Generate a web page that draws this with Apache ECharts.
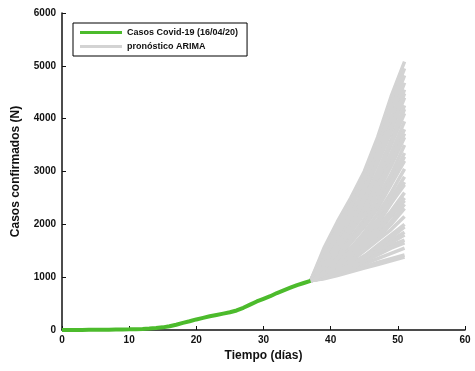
<!DOCTYPE html>
<html>
<head>
<meta charset="utf-8">
<script src="https://cdn.jsdelivr.net/npm/echarts@6/dist/echarts.min.js"></script>
<style>
html,body{margin:0;padding:0;background:#fff;}
#c{width:475px;height:371px;}
</style>
</head>
<body>
<div id="c"></div>
<script>
// Observed cases (days 0..37)
var obsDays = [0,1,2,3,4,5,6,7,8,9,10,11,12,13,14,15,16,17,18,19,20,21,22,23,24,25,26,27,28,29,30,31,32,33,34,35,36,37];
var obsCases = [1,1,2,2,3,4,5,6,8,10,12,15,20,28,38,50,70,100,135,165,200,230,260,285,310,335,370,420,480,540,590,640,700,750,800,850,890,930];

// ARIMA forecast paths, sampled at these days
var fcDays = [37,39,41,43,45,47,49,51];
var fcPaths = [
  [930,1550,2050,2500,3000,3650,4420,5080],
  [930,1450,1950,2450,2950,3600,4300,4950],
  [930,1350,1850,2350,2850,3450,4150,4820],
  [930,1500,1900,2300,2800,3350,4000,4680],
  [930,1300,1700,2150,2700,3250,3900,4550],
  [930,1250,1650,2100,2600,3150,3750,4400],
  [930,1400,1750,2100,2500,3000,3600,4250],
  [930,1200,1550,1950,2400,2900,3500,4100],
  [930,1250,1600,1950,2350,2800,3350,3950],
  [930,1150,1450,1850,2250,2700,3250,3800],
  [930,1300,1550,1850,2200,2600,3100,3650],
  [930,1100,1400,1750,2100,2500,2950,3500],
  [930,1200,1450,1700,2050,2400,2850,3350],
  [930,1150,1350,1650,1950,2300,2750,3200],
  [930,1100,1300,1550,1850,2200,2600,3050],
  [930,1050,1300,1550,1800,2100,2500,2900],
  [930,1150,1300,1500,1750,2000,2400,2750],
  [930,1050,1250,1450,1700,1950,2250,2600],
  [930,1100,1250,1400,1600,1850,2150,2450],
  [930,1000,1200,1350,1550,1750,2000,2300],
  [930,1050,1150,1300,1500,1700,1900,2150],
  [930,1000,1100,1250,1400,1600,1800,2000],
  [930,1050,1150,1250,1350,1500,1700,1850],
  [930,1000,1050,1200,1300,1450,1600,1700],
  [930,980,1050,1150,1250,1350,1450,1550],
  [930,990,1060,1120,1200,1280,1350,1420],
  [930,970,1030,1100,1170,1240,1310,1380],
  [930,1350,1800,2200,2650,3200,3800,4480],
  [930,1200,1600,2000,2450,3000,3550,4180],
  [930,1100,1500,1900,2300,2750,3150,3720],
  [930,1050,1350,1700,2000,2350,2800,3280],
  [930,1000,1250,1500,1750,2050,2400,2800],
  [930,1000,1150,1350,1550,1800,2050,2380],
  [930,990,1100,1250,1400,1550,1750,1950],
  [930,980,1080,1180,1300,1420,1550,1650],
  [930,1020,1120,1230,1360,1500,1650,1800],
  [930,1060,1220,1400,1620,1880,2170,2500]
];

var xTicks = [0,10,20,30,40,50,60];
var yTicks = [0,1000,2000,3000,4000,5000,6000];

var nameObs = 'Casos Covid-19 (16/04/20)';
var nameFc = 'pronóstico ARIMA';

var FONT = 'Liberation Sans, Arial, sans-serif';
var series = [];
fcPaths.forEach(function(p){
  series.push({
    name: nameFc, type: 'line', symbol: 'none', silent: true,
    data: fcDays.map(function(d,i){return [d,p[i]];}),
    lineStyle: {color:'#d3d3d3', width: 3.5},
    itemStyle: {color:'#d3d3d3'},
    z: 2
  });
});
series.push({
  name: nameObs, type: 'line', symbol: 'none',
  data: obsDays.map(function(d,i){return [d,obsCases[i]];}),
  lineStyle: {color:'#4cbb2c', width: 4},
  itemStyle: {color:'#4cbb2c'},
  z: 3
});

var chart = echarts.init(document.getElementById('c'));
chart.setOption({
  animation: false,
  backgroundColor: '#fff',
  grid: {left: 62, right: 10, top: 13, bottom: 41},
  legend: {
    data: [
      {name: nameObs, icon: 'rect', itemStyle: {color: '#4cbb2c'}},
      {name: nameFc, icon: 'rect', itemStyle: {color: '#d3d3d3'}}
    ],
    orient: 'vertical', left: 73, top: 23,
    padding: [5, 9, 5, 7], itemGap: 5,
    itemWidth: 42, itemHeight: 3,
    borderColor: '#000', borderWidth: 1,
    textStyle: {fontFamily: FONT, fontSize: 9, fontWeight: 'bold', color: '#111'}
  },
  xAxis: {
    type: 'value', min: 0, max: 60, interval: 10,
    name: 'Tiempo (días)', nameLocation: 'middle', nameGap: 20,
    nameTextStyle: {fontFamily: FONT, fontSize: 12, fontWeight: 'bold', color: '#111'},
    axisLine: {lineStyle: {color: '#111', width: 1.5}},
    axisTick: {inside: true, length: 4, lineStyle: {color: '#111'}},
    axisLabel: {fontFamily: FONT, fontSize: 10, fontWeight: 'bold', color: '#111', margin: 5},
    splitLine: {show: false}
  },
  yAxis: {
    type: 'value', min: 0, max: 6000, interval: 1000,
    name: 'Casos confirmados (N)', nameLocation: 'middle', nameGap: 40,
    nameTextStyle: {fontFamily: FONT, fontSize: 12, fontWeight: 'bold', color: '#111'},
    axisLine: {show: true, lineStyle: {color: '#111', width: 1.5}},
    axisTick: {show: true, inside: true, length: 4, lineStyle: {color: '#111'}},
    axisLabel: {fontFamily: FONT, fontSize: 10, fontWeight: 'bold', color: '#111', margin: 6,
      formatter: function(v){ return String(v); }},
    splitLine: {show: false}
  },
  series: series
});
</script>
</body>
</html>
